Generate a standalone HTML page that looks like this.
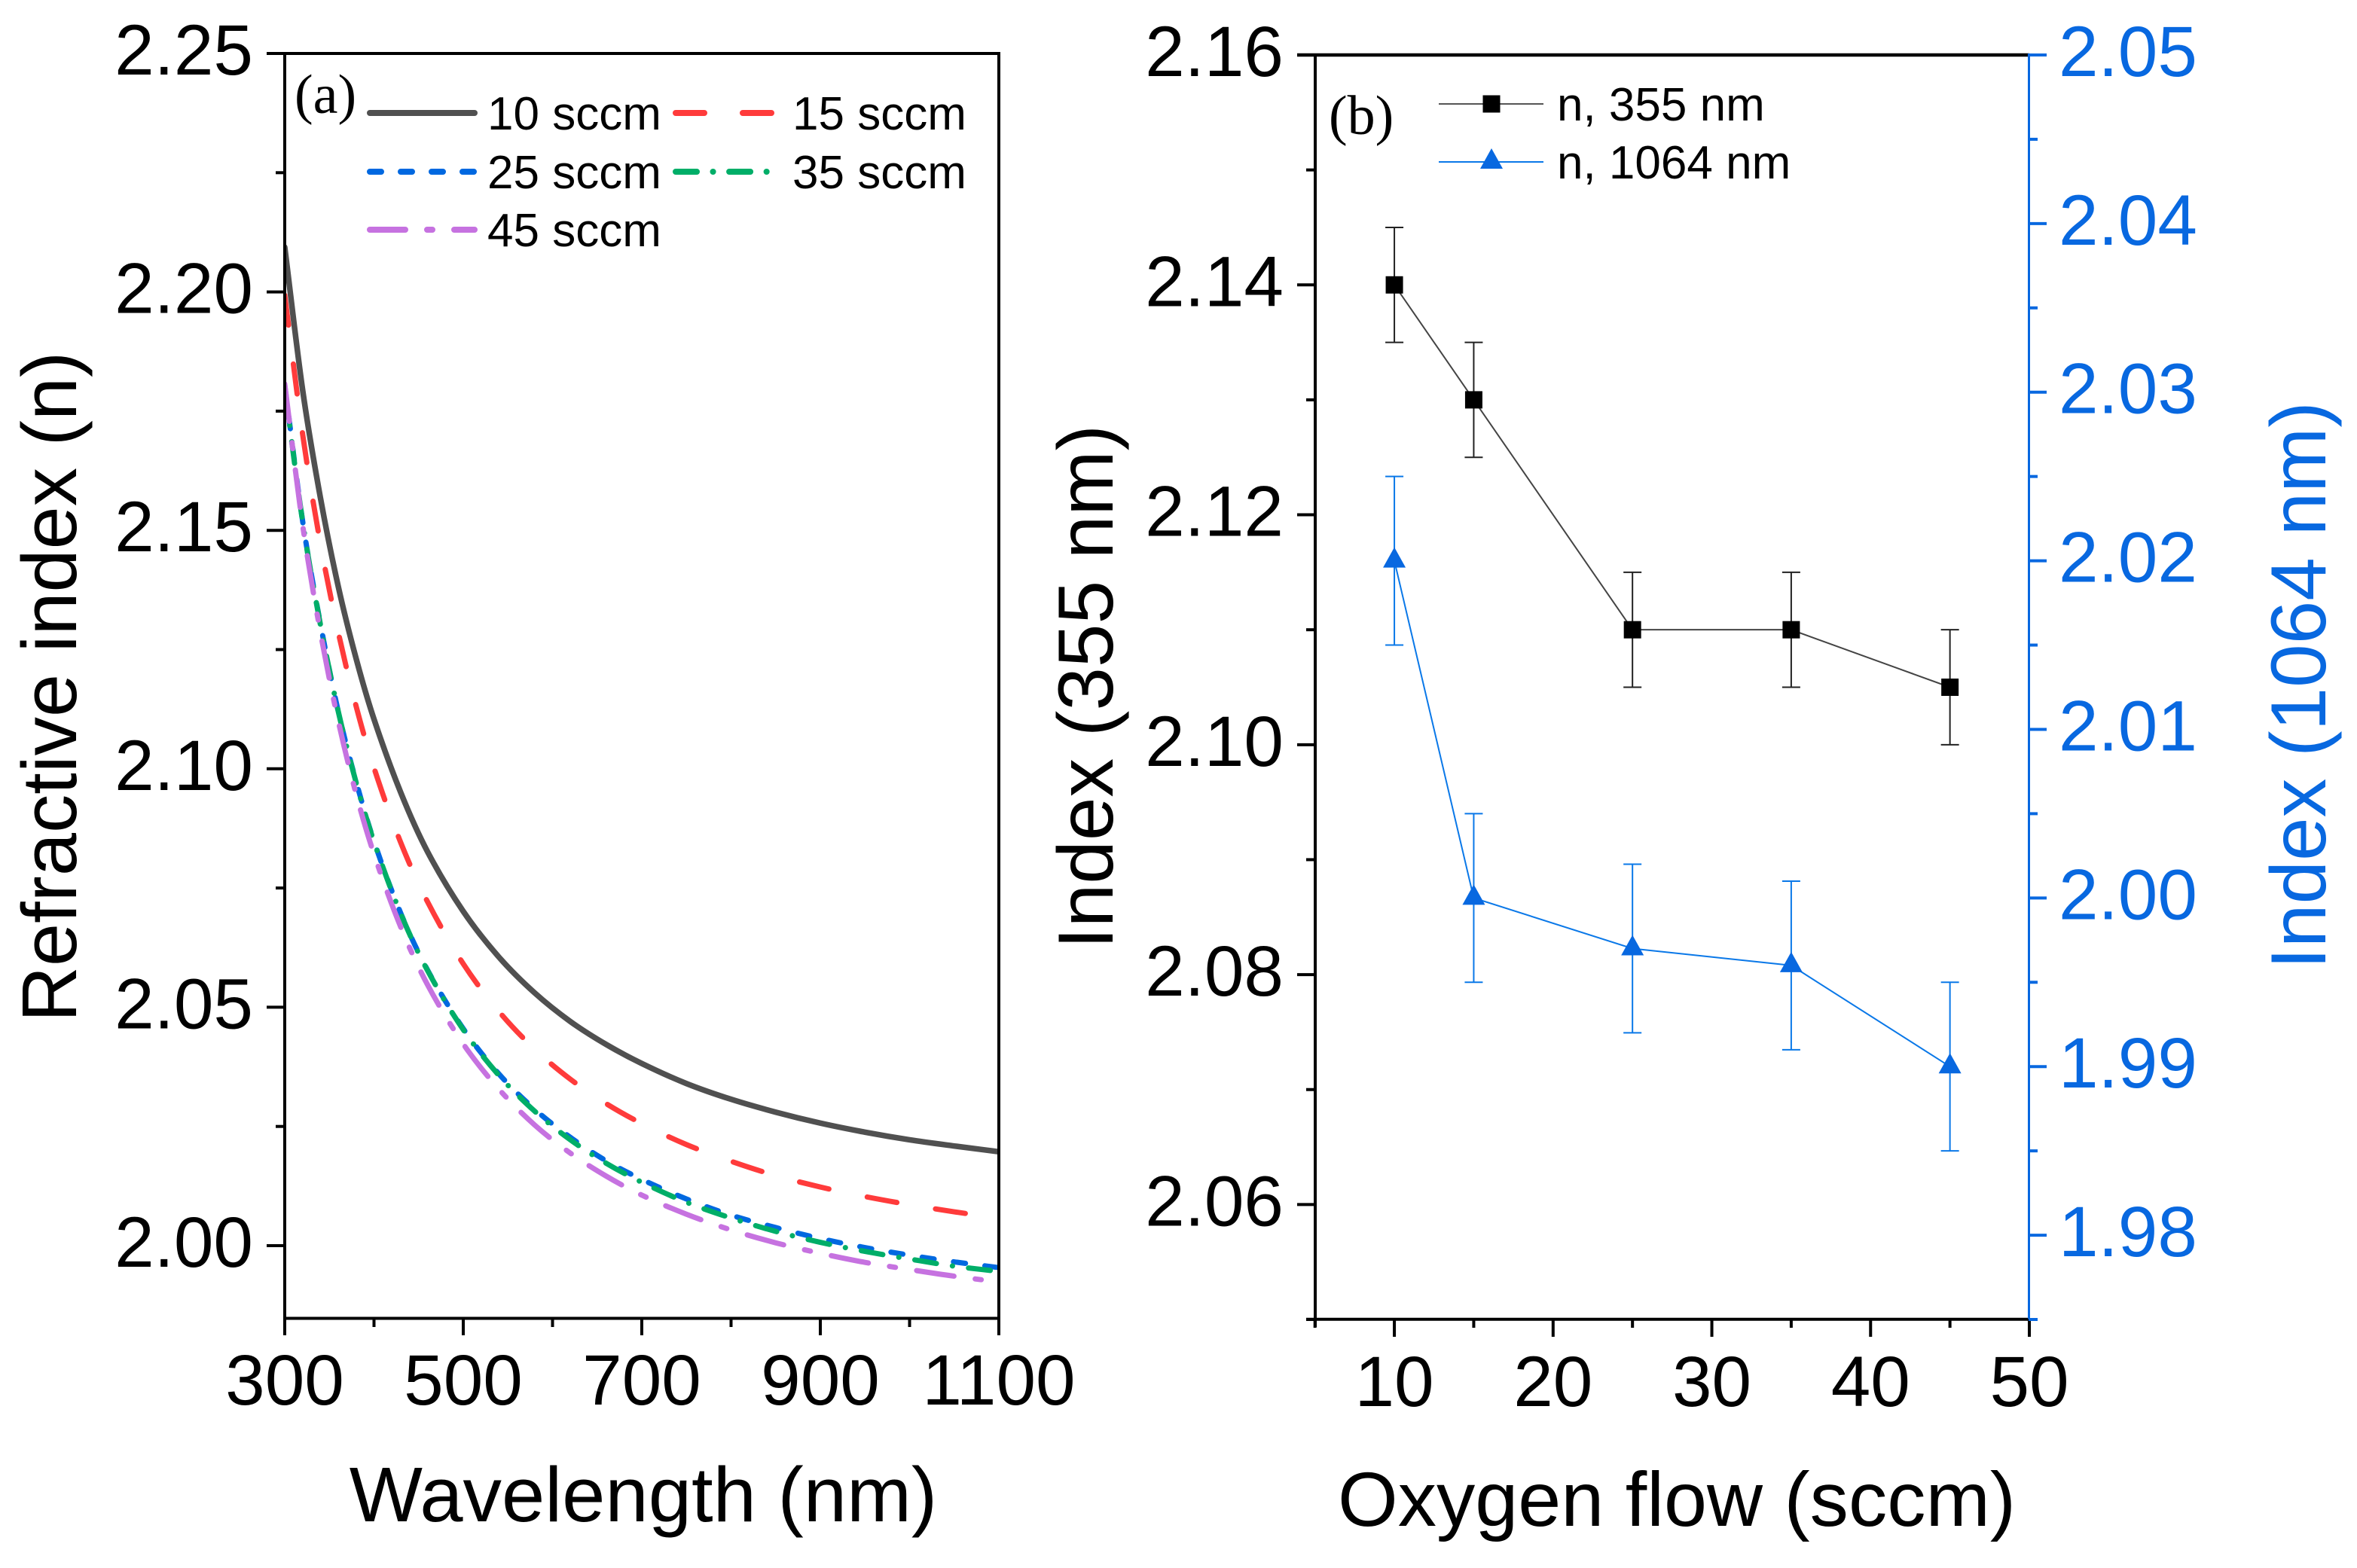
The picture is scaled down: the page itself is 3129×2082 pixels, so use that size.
<!DOCTYPE html>
<html lang="en">
<head>
<meta charset="utf-8">
<title>Refractive index charts</title>
<style>
  html, body { margin: 0; padding: 0; background: #fff; }
  svg { display: block; }
  text { font-family: "Liberation Sans", sans-serif; fill: #000; }
  .serif { font-family: "Liberation Serif", serif; }
</style>
</head>
<body>
<svg id="chart" xmlns="http://www.w3.org/2000/svg" width="3129" height="2082" viewBox="0 0 3129 2082">
  <rect x="0" y="0" width="3129" height="2082" fill="#ffffff"/>
  <defs>
    <clipPath id="clip-a"><rect x="378" y="71" width="948" height="1680"/></clipPath>
  </defs>
  <g id="panel-a">
    <g id="a-series" clip-path="url(#clip-a)"></g>
    <g id="a-axes"></g>
    <text class="serif" x="391" y="150" font-size="74">(a)</text>
    <text x="854" y="2020" font-size="103" text-anchor="middle">Wavelength (nm)</text>
    <text transform="translate(101,912) rotate(-90)" font-size="102.7" text-anchor="middle">Refractive index (n)</text>
    <g id="a-legend"></g>
  </g>
  <g id="panel-b">
    <g id="b-axes"></g>
    <g id="b-series"></g>
    <text class="serif" x="1764" y="178" font-size="74">(b)</text>
    <text x="2226" y="2026" font-size="102.3" text-anchor="middle" textLength="900" lengthAdjust="spacingAndGlyphs">Oxygen flow (sccm)</text>
    <text transform="translate(1477,912) rotate(-90)" font-size="103.5" text-anchor="middle">Index (355 nm)</text>
    <text transform="translate(3087,910) rotate(-90)" font-size="103.5" text-anchor="middle" style="fill:#0868e0">Index (1064 nm)</text>
    <g id="b-legend">
      <line x1="1910" y1="138" x2="2049" y2="138" stroke="#555" stroke-width="2"/>
      <rect x="1968.5" y="126.5" width="23" height="23" fill="#000"/>
      <text x="2067" y="160" font-size="62">n, 355 nm</text>
      <line x1="1910" y1="215" x2="2049" y2="215" stroke="#0a78e8" stroke-width="2"/>
      <polygon points="1980,197 1995,224 1965,224" fill="#0868e0"/>
      <text x="2067" y="237" font-size="62">n, 1064 nm</text>
    </g>
  </g>
</svg>
<script>
// ---- Panel (a) data ----
const wavelengths = [300,320,340,360,380,400,430,460,500,540,580,620,660,700,750,800,850,900,950,1000,1050,1100];
const sccm10 = [2.2094,2.1795,2.1568,2.1382,2.1231,2.1104,2.0950,2.0826,2.0701,2.0605,2.0530,2.0470,2.0422,2.0382,2.0340,2.0307,2.0280,2.0257,2.0238,2.0222,2.0209,2.0197];
const sccm15 = [2.1993,2.1702,2.1472,2.1286,2.1131,2.1002,2.0845,2.0721,2.0591,2.0491,2.0412,2.0349,2.0298,2.0256,2.0212,2.0177,2.0147,2.0123,2.0103,2.0086,2.0071,2.0058];
const sccm25 = [2.1804,2.1520,2.1304,2.1120,2.0973,2.0848,2.0697,2.0578,2.0455,2.0360,2.0286,2.0227,2.0178,2.0139,2.0098,2.0064,2.0038,2.0015,1.9996,1.9980,1.9966,1.9954];
const sccm35 = [2.1799,2.1519,2.1302,2.1120,2.0971,2.0847,2.0696,2.0577,2.0453,2.0357,2.0282,2.0222,2.0173,2.0133,2.0091,2.0058,2.0030,2.0007,1.9988,1.9972,1.9957,1.9946];
const sccm45 = [2.1807,2.1512,2.1286,2.1100,2.0947,2.0821,2.0668,2.0547,2.0423,2.0328,2.0253,2.0194,2.0146,2.0106,2.0066,2.0033,2.0006,1.9984,1.9965,1.9950,1.9936,1.9924];
const aXTickLabels = ["300","500","700","900","1100"];
const aXMinorTicks = [400,600,800,1000];
const aYTickLabels = ["2.00","2.05","2.10","2.15","2.20","2.25"];
const aYMinorTicks = [2.025,2.075,2.125,2.175,2.225];

// ---- Panel (b) data ----
const oxygenFlow = [10,15,25,35,45];
const index355 = [2.14,2.13,2.11,2.11,2.105];
const error355 = [0.005,0.005,0.005,0.005,0.005];
const index1064 = [2.02,2.0,1.997,1.996,1.99];
const error1064 = [0.005,0.005,0.005,0.005,0.005];
const bXTickLabels = ["10","20","30","40","50"];
const bXMinorTicks = [5,15,25,35,45];
const bLeftTickLabels = ["2.06","2.08","2.10","2.12","2.14","2.16"];
const bLeftMinorTicks = [2.05,2.07,2.09,2.11,2.13,2.15];
const bRightTickLabels = ["1.98","1.99","2.00","2.01","2.02","2.03","2.04","2.05"];
const bRightMinorTicks = [1.975,1.985,1.995,2.005,2.015,2.025,2.035,2.045];

const NS = "http://www.w3.org/2000/svg";
const BLUE = "#0868e0";
const TICK_FONT = 94.5;

// Axis functions
function xA(nm) { return 378 + (nm - 300) * (1326 - 378) / 800; }
function yA(v) { return 1654 - (v - 2.0) * 6332; }
function xB(f) { return 1745.7 + (f - 5) * (2694 - 1745.7) / 45; }
function yBL(v) { return 73 + (2.16 - v) * (1752 - 73) / 0.11; }
function yBR(v) { return 73 + (2.05 - v) * (1752 - 73) / 0.075; }

function line(parent, x1, y1, x2, y2, stroke, width) {
  const el = document.createElementNS(NS, "line");
  el.setAttribute("x1", x1);
  el.setAttribute("y1", y1);
  el.setAttribute("x2", x2);
  el.setAttribute("y2", y2);
  el.setAttribute("stroke", stroke);
  el.setAttribute("stroke-width", width);
  parent.appendChild(el);
  return el;
}
function label(parent, x, y, str, anchor, size, fill) {
  const el = document.createElementNS(NS, "text");
  el.setAttribute("x", x);
  el.setAttribute("y", y);
  el.setAttribute("text-anchor", anchor);
  el.setAttribute("font-size", size);
  if (fill) el.style.fill = fill;
  el.textContent = str;
  parent.appendChild(el);
  return el;
}
function smoothPath(xs, ys) {
  let d = "M" + xs[0].toFixed(2) + " " + ys[0].toFixed(2);
  for (let i = 0; i < xs.length - 1; i++) {
    const i0 = Math.max(i - 1, 0), i3 = Math.min(i + 2, xs.length - 1);
    const h = xs[i + 1] - xs[i];
    const m1 = (ys[i + 1] - ys[i0]) / (xs[i + 1] - xs[i0]);
    const m2 = (ys[i3] - ys[i]) / (xs[i3] - xs[i]);
    const c1x = xs[i] + h / 3, c1y = ys[i] + m1 * h / 3;
    const c2x = xs[i + 1] - h / 3, c2y = ys[i + 1] - m2 * h / 3;
    d += "C" + c1x.toFixed(2) + " " + c1y.toFixed(2) + " " + c2x.toFixed(2) + " " + c2y.toFixed(2) + " " + xs[i + 1].toFixed(2) + " " + ys[i + 1].toFixed(2);
  }
  return d;
}

// ---- Panel (a) axes ----
const aAxes = document.getElementById("a-axes");
let axEl;
axEl = line(aAxes, 354, 71, 1328, 71, "#000", 4);


axEl = line(aAxes, 1326, 69, 1326, 1752, "#000", 4);


axEl = line(aAxes, 378, 69, 378, 1773, "#000", 4);


axEl = line(aAxes, 376, 1750.5, 1328, 1750.5, "#000", 4);



aXTickLabels.forEach(function (t) {
  const v = parseFloat(t);
  const tick = line(aAxes, xA(v), 1750, xA(v), 1773, "#000", 4);
  
  
  const txt = label(aAxes, xA(v), 1865, t, "middle", TICK_FONT);
  
  
});
aXMinorTicks.forEach(function (v) {
  const tick = line(aAxes, xA(v), 1750, xA(v), 1762, "#000", 4);
  
  
});
aYTickLabels.forEach(function (t) {
  const v = parseFloat(t);
  const tick = line(aAxes, 354, yA(v), 378, yA(v), "#000", 4);
  
  
  const txt = label(aAxes, 336, yA(v) + 28, t, "end", TICK_FONT);
  
  
});
aYMinorTicks.forEach(function (v) {
  const tick = line(aAxes, 366, yA(v), 378, yA(v), "#000", 4);
  
  
});

// ---- Panel (a) series ----
const aSeriesGroup = document.getElementById("a-series");
function drawCurve(values, stroke, width, dash) {
  const el = document.createElementNS(NS, "path");
  el.setAttribute("d", smoothPath(wavelengths.map(xA), values.map(yA)));
  el.setAttribute("fill", "none");
  el.setAttribute("stroke", stroke);
  el.setAttribute("stroke-width", width);
  el.setAttribute("stroke-linecap", "round");
  if (dash) el.setAttribute("stroke-dasharray", dash);
  aSeriesGroup.appendChild(el);
  return el;
}
const curve10 = drawCurve(sccm10, "#505050", 7.5, null);


const curve15 = drawCurve(sccm15, "#ff3b3b", 7, "40 52");


const curve25 = drawCurve(sccm25, "#0068e0", 7, "16 26");


const curve35 = drawCurve(sccm35, "#00ae68", 7, "29 21.5 0.1 21.5");


const curve45 = drawCurve(sccm45, "#c672e0", 7, "50 28.5 8 28.5");



// ---- Panel (a) legend ----
const aLegend = document.getElementById("a-legend");
function legendLine(x1, x2, y, stroke, width, dash) {
  const el = line(aLegend, x1, y, x2, y, stroke, width);
  el.setAttribute("stroke-linecap", "round");
  if (dash) el.setAttribute("stroke-dasharray", dash);
  return el;
}
let lg;
lg = legendLine(491, 630, 150, "#505050", 8, null);


lg = label(aLegend, 647, 172, "10 sccm", "start", 62);


lg = legendLine(897, 1033, 150, "#ff3b3b", 8, "38 51");


lg = label(aLegend, 1052, 172, "15 sccm", "start", 62);


lg = legendLine(491, 630, 228, "#0068e0", 8, "15 26");


lg = label(aLegend, 647, 250, "25 sccm", "start", 62);


lg = legendLine(897, 1020, 228, "#00ae68", 8, "28 21.5 0.1 21.5");


lg = label(aLegend, 1052, 250, "35 sccm", "start", 62);


lg = legendLine(491, 630, 305, "#c672e0", 8, "47 29 7 29");


lg = label(aLegend, 647, 327, "45 sccm", "start", 62);



// ---- Panel (b) axes ----
const bAxes = document.getElementById("b-axes");
axEl = line(bAxes, 1722, 73, 2694, 73, "#000", 4.5);


axEl = line(bAxes, 1746, 71, 1746, 1762, "#000", 4);


axEl = line(bAxes, 1734, 1751.7, 2694, 1751.7, "#000", 4);


axEl = line(bAxes, 2693.5, 71, 2693.5, 1753, BLUE, 3);



bXTickLabels.forEach(function (t) {
  const v = parseFloat(t);
  const tick = line(bAxes, xB(v), 1751, xB(v), 1775, "#000", 4);
  
  
  const txt = label(bAxes, xB(v), 1867, t, "middle", TICK_FONT);
  
  
});
bXMinorTicks.forEach(function (v) {
  const tick = line(bAxes, xB(v), 1751, xB(v), 1763, "#000", 4);
  
  
});
bLeftTickLabels.forEach(function (t) {
  const v = parseFloat(t);
  const tick = line(bAxes, 1722, yBL(v), 1746, yBL(v), "#000", 4);
  
  
  const txt = label(bAxes, 1704, yBL(v) + 28, t, "end", TICK_FONT);
  
  
});
bLeftMinorTicks.forEach(function (v) {
  const tick = line(bAxes, 1734, yBL(v), 1746, yBL(v), "#000", 4);
  
  
});
bRightTickLabels.forEach(function (t) {
  const v = parseFloat(t);
  const tick = line(bAxes, 2693, yBR(v), 2717, yBR(v), BLUE, 4);
  
  
  const txt = label(bAxes, 2733, yBR(v) + 28, t, "start", TICK_FONT, BLUE);
  
  
});
bRightMinorTicks.forEach(function (v) {
  const tick = line(bAxes, 2693, yBR(v), 2705, yBR(v), BLUE, 4);
  
  
});

// ---- Panel (b) series ----
const bSeries = document.getElementById("b-series");
function polyline(values, yFn, stroke) {
  const el = document.createElementNS(NS, "polyline");
  el.setAttribute("points", values.map(function (v, i) { return xB(oxygenFlow[i]).toFixed(2) + "," + yFn(v).toFixed(2); }).join(" "));
  el.setAttribute("fill", "none");
  el.setAttribute("stroke", stroke);
  el.setAttribute("stroke-width", 2);
  bSeries.appendChild(el);
  return el;
}
function errorBar(x, y1, y2, stroke) {
  const g = document.createElementNS(NS, "g");
  line(g, x, y1, x, y2, stroke, 2);
  line(g, x - 12, y1, x + 12, y1, stroke, 2);
  line(g, x - 12, y2, x + 12, y2, stroke, 2);
  bSeries.appendChild(g);
  return g;
}
const line1064 = polyline(index1064, yBR, "#0a78e8");


const line355 = polyline(index355, yBL, "#444");



oxygenFlow.forEach(function (f, i) {
  const x = xB(f);
  const eb2 = errorBar(x, yBR(index1064[i] + error1064[i]), yBR(index1064[i] - error1064[i]), "#0a78e8");
  
  
  const eb1 = errorBar(x, yBL(index355[i] + error355[i]), yBL(index355[i] - error355[i]), "#222");
  
  

  const y2 = yBR(index1064[i]);
  const tri = document.createElementNS(NS, "polygon");
  tri.setAttribute("points", x + "," + (y2 - 18) + " " + (x + 15) + "," + (y2 + 9) + " " + (x - 15) + "," + (y2 + 9));
  tri.setAttribute("fill", BLUE);
  
  
  bSeries.appendChild(tri);

  const y1 = yBL(index355[i]);
  const sq = document.createElementNS(NS, "rect");
  sq.setAttribute("x", x - 11.5);
  sq.setAttribute("y", y1 - 11.5);
  sq.setAttribute("width", 23);
  sq.setAttribute("height", 23);
  sq.setAttribute("fill", "#000");
  
  
  bSeries.appendChild(sq);
});
</script>
</body>
</html>
